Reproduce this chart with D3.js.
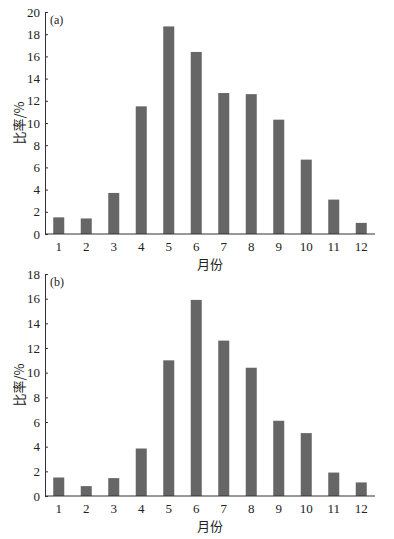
<!DOCTYPE html>
<html><head><meta charset="utf-8">
<script src="https://cdn.jsdelivr.net/npm/d3@7"></script>
<style>body{margin:0;background:#fff}svg{display:block}</style>
</head><body>
<script>
const months = ["1","2","3","4","5","6","7","8","9","10","11","12"];
const valuesA = [1.5,1.4,3.7,11.5,18.7,16.4,12.7,12.6,10.3,6.7,3.1,1.0];
const valuesB = [1.5,0.8,1.45,3.85,11.0,15.9,12.6,10.4,6.1,5.1,1.9,1.1];
const ticksA = [0,2,4,6,8,10,12,14,16,18,20];
const ticksB = [0,2,4,6,8,10,12,14,16,18];
const yLabel = "比率/%";
const xLabel = "月份";

const W = 394, H = 539;
const svg = d3.select("body").append("svg").attr("width", W).attr("height", H);
const serif = "'Liberation Serif','Times New Roman',serif";
const cjk = "'Noto Sans CJK SC',sans-serif";

function panel(vals, ticks, yMax, top, bottom, tag){
  const left = 45, right = 375;
  const x = d3.scaleBand().domain(months).range([left, right]).paddingInner(0.6).paddingOuter(0.3);
  const y = d3.scaleLinear().domain([0, yMax]).range([bottom, top]);
  const g = svg.append("g");
  g.selectAll("rect").data(vals).join("rect")
    .attr("x", (d,i)=>x(months[i])).attr("width", x.bandwidth())
    .attr("y", d=>y(d)).attr("height", d=>y(0)-y(d))
    .attr("fill", "#666");
  const ya = g.append("g").attr("transform", `translate(${left},0)`)
    .call(d3.axisLeft(y).tickValues(ticks).tickSize(-3).tickPadding(5).tickSizeOuter(0));
  ya.selectAll("text").attr("font-family", serif).attr("font-size", 13).attr("fill","#222");
  ya.selectAll("line,path").attr("stroke","#333");
  const xa = g.append("g").attr("transform", `translate(0,${bottom})`)
    .call(d3.axisBottom(x).tickSize(0).tickPadding(8).tickSizeOuter(0));
  xa.select("path").attr("d", `M${left},0H${right}`).attr("stroke","#333");
  xa.selectAll("text").attr("font-family", serif).attr("font-size", 13).attr("fill","#222");
  g.append("text").attr("x", 50).attr("y", top + 12).text(tag)
    .attr("font-family", serif).attr("font-size", 12).attr("fill","#222");
  g.append("text").attr("x", (left+right)/2).attr("y", bottom + 35).attr("text-anchor","middle")
    .text(xLabel).attr("font-family", cjk).attr("font-size", 13).attr("fill","#222");
  g.append("text").attr("transform", `translate(24,${(top+bottom)/2}) rotate(-90)`)
    .attr("text-anchor","middle").text(yLabel)
    .attr("font-family", cjk).attr("font-size", 13).attr("fill","#222");
}
panel(valuesA, ticksA, 20, 12, 234, "(a)");
panel(valuesB, ticksB, 18, 274, 496, "(b)");
</script>
</body></html>
